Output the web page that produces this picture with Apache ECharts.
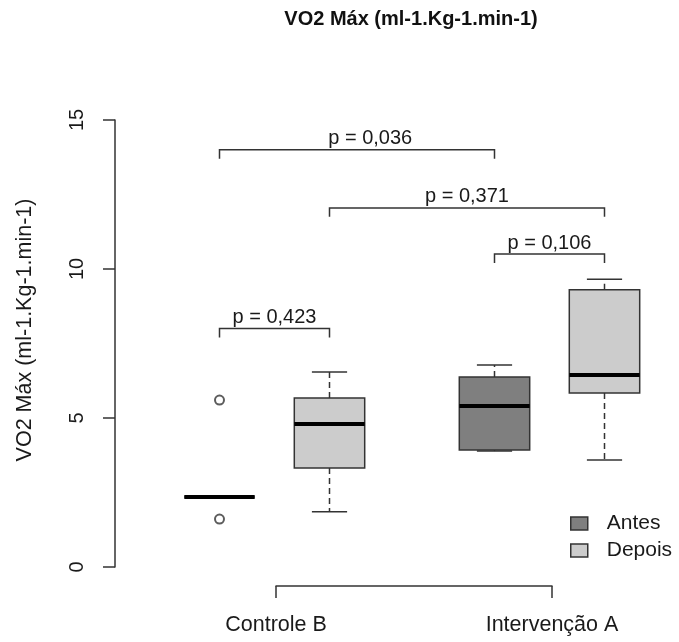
<!DOCTYPE html>
<html lang="pt">
<head>
<meta charset="UTF-8">
<title>VO2 Máx boxplot</title>
<script src="https://cdn.jsdelivr.net/npm/echarts@6/dist/echarts.min.js"></script>
<style>
  html, body { margin: 0; padding: 0; background: #fff; }
  #chart { width: 679px; height: 642px; }
</style>
</head>
<body>
<div id="chart"></div>
<script>
// x slot of each box on the (hidden) value axis
const antesX = [0.95, 3.45];
const depoisX = [1.95, 4.45];
// [min, q1, median, q3, max]
const antesStats = [
  [2.35, 2.35, 2.35, 2.35, 2.35],
  [3.89, 3.93, 5.40, 6.38, 6.78]
];
const depoisStats = [
  [1.85, 3.32, 4.80, 5.67, 6.54],
  [3.59, 5.84, 6.44, 9.30, 9.66]
];
const outlierX = [0.95, 0.95];
const outlierY = [5.60, 1.61];

const groupNames = ['Controle B', 'Intervenção A'];

// significance brackets
const bracketFrom = [0.95, 1.95, 3.45, 0.95];
const bracketTo = [3.45, 4.45, 4.45, 1.95];
const bracketY = [14.0, 12.05, 10.5, 8.0];
const pLabels = ['p = 0,036', 'p = 0,371', 'p = 0,106', 'p = 0,423'];
const pLabelX = [2.32, 3.2, 3.95, 1.45];

const yTicks = [0, 5, 10, 15];

const FONT = "'Liberation Sans', Arial, sans-serif";
const INK = '#333';

let chart = echarts.init(document.getElementById('chart'));

function boxData(xs, stats) {
  return xs.map((x, i) => [x].concat(stats[i]));
}

function renderBox(params, api) {
  const x = api.value(0);
  const pt = v => api.coord([x, v]);
  const half = api.size([0.64, 0])[0] / 2;
  const cap = half / 2;
  const cx = pt(0)[0];
  const yMin = pt(api.value(1))[1], yQ1 = pt(api.value(2))[1];
  const yMed = pt(api.value(3))[1], yQ3 = pt(api.value(4))[1];
  const yMax = pt(api.value(5))[1];
  const fill = api.visual('color');
  const dashed = { stroke: INK, lineWidth: 1.5, lineDash: [6, 4] };
  const solid = { stroke: INK, lineWidth: 1.5 };
  return {
    type: 'group',
    children: [
      { type: 'line', shape: { x1: cx, y1: yQ3, x2: cx, y2: yMax }, style: dashed },
      { type: 'line', shape: { x1: cx, y1: yQ1, x2: cx, y2: yMin }, style: dashed },
      { type: 'line', shape: { x1: cx - cap, y1: yMax, x2: cx + cap, y2: yMax }, style: solid },
      { type: 'line', shape: { x1: cx - cap, y1: yMin, x2: cx + cap, y2: yMin }, style: solid },
      { type: 'rect', shape: { x: cx - half, y: yQ3, width: half * 2, height: yQ1 - yQ3 },
        style: { fill: fill, stroke: INK, lineWidth: 1.5 } },
      { type: 'line', shape: { x1: cx - half, y1: yMed, x2: cx + half, y2: yMed },
        style: { stroke: '#000', lineWidth: 4 } }
    ]
  };
}

function renderBracket(params, api) {
  const i = params.dataIndex;
  const a = api.coord([api.value(0), api.value(2)]);
  const b = api.coord([api.value(1), api.value(2)]);
  const leg = api.size([0, 0.3])[1];
  const lx = api.coord([pLabelX[i], api.value(2)])[0];
  return {
    type: 'group',
    children: [
      { type: 'polyline',
        shape: { points: [[a[0], a[1] + leg], [a[0], a[1]], [b[0], b[1]], [b[0], b[1] + leg]] },
        style: { stroke: INK, lineWidth: 1.5, fill: null } },
      { type: 'text', x: lx, y: a[1] - 11,
        style: { text: pLabels[i], align: 'center', verticalAlign: 'middle',
                 fontSize: 20, fontFamily: FONT, fill: '#1a1a1a' } }
    ]
  };
}

let option = {
  backgroundColor: '#fff',
  animation: false,
  graphic: [
    { type: 'text', x: 411, y: 19,
      style: { text: 'VO2 Máx (ml-1.Kg-1.min-1)', align: 'center', verticalAlign: 'middle',
               fontSize: 20, fontWeight: 'bold', fontFamily: FONT, fill: '#111' } },
    { type: 'text', x: 25, y: 330, rotation: Math.PI / 2,
      style: { text: 'VO2 Máx (ml-1.Kg-1.min-1)', align: 'center', verticalAlign: 'middle',
               fontSize: 21.5, fontFamily: FONT, fill: '#1a1a1a' } }
  ],
  legend: {
    orient: 'vertical',
    left: 565,
    top: 508,
    itemWidth: 17,
    itemHeight: 13,
    itemGap: 6,
    icon: 'rect',
    selectedMode: false,
    itemStyle: { borderColor: INK, borderWidth: 1.5 },
    textStyle: { fontSize: 21, fontFamily: FONT, color: '#1a1a1a', padding: [0, 0, 0, 14] },
    data: ['Antes', 'Depois']
  },
  grid: [
    { left: 115, right: 14, top: 120, bottom: 75 },
    { left: 276, width: 276, top: 585, height: 1 }
  ],
  xAxis: [
    { type: 'value', min: 0, max: 5, show: false, gridIndex: 0 },
    { type: 'category', gridIndex: 1, data: groupNames, boundaryGap: false,
      axisLine: { lineStyle: { color: INK, width: 1.5 } },
      axisTick: { length: 12, lineStyle: { color: INK, width: 1.5 } },
      axisLabel: { interval: 0, fontSize: 21.5, fontFamily: FONT, color: '#1a1a1a', margin: 28 } }
  ],
  yAxis: [
    { type: 'value', min: 0, max: 15, interval: 5, gridIndex: 0,
      axisLine: { show: true, lineStyle: { color: INK, width: 1.5 } },
      axisTick: { show: true, length: 12, lineStyle: { color: INK, width: 1.5 } },
      axisLabel: { rotate: 90, fontSize: 20, fontFamily: FONT, color: '#1a1a1a', margin: 28,
                   formatter: v => yTicks.indexOf(v) >= 0 ? String(v) : '' },
      splitLine: { show: false } },
    { type: 'value', gridIndex: 1, show: false }
  ],
  series: [
    { name: 'Antes', type: 'custom', renderItem: renderBox,
      itemStyle: { color: '#7f7f7f' },
      encode: { x: 0, y: [1, 2, 3, 4, 5] },
      data: boxData(antesX, antesStats) },
    { name: 'Depois', type: 'custom', renderItem: renderBox,
      itemStyle: { color: '#cccccc' },
      encode: { x: 0, y: [1, 2, 3, 4, 5] },
      data: boxData(depoisX, depoisStats) },
    { name: 'outliers', type: 'scatter', symbol: 'emptyCircle', symbolSize: 9,
      itemStyle: { color: INK, borderWidth: 1.5 },
      data: outlierX.map((x, i) => [x, outlierY[i]]) },
    { name: 'brackets', type: 'custom', renderItem: renderBracket,
      encode: { x: [0, 1], y: 2 },
      data: bracketFrom.map((x, i) => [x, bracketTo[i], bracketY[i]]) }
  ]
};

chart.setOption(option);
</script>
</body>
</html>
